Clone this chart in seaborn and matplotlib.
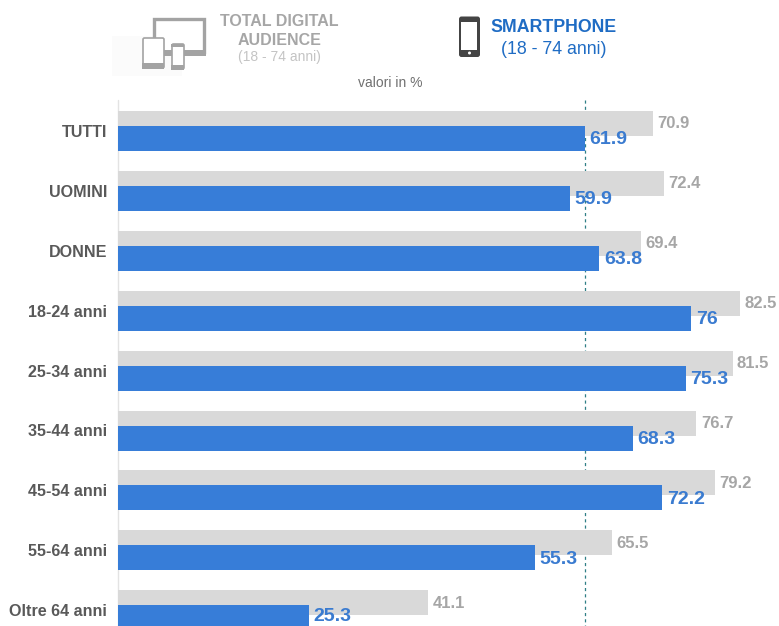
import matplotlib
matplotlib.use("Agg")
import matplotlib.pyplot as plt
from matplotlib.patches import Rectangle, FancyBboxPatch
import numpy as np
import seaborn as sns

categories = ["TUTTI", "UOMINI", "DONNE", "18-24 anni", "25-34 anni",
              "35-44 anni", "45-54 anni", "55-64 anni", "Oltre 64 anni"]
total_digital = [70.9, 72.4, 69.4, 82.5, 81.5, 76.7, 79.2, 65.5, 41.1]
smartphone = [61.9, 59.9, 63.8, 76, 75.3, 68.3, 72.2, 55.3, 25.3]
reference_line = 62

GREY_BAR = "#d9d9d9"
BLUE_BAR = "#377dd8"
GREY_TEXT = "#a6a6a6"
BLUE_TEXT = "#3a7bd0"
DARK_TEXT = "#595959"
W, H = 779, 626
X0, PX_PER_UNIT = 118, 7.54
ROW_TOP, ROW_STEP = 131, 59.9
BAR_PX, OFFSET_PX = 25, 7.5

sns.set_theme(style="white")
plt.rcParams["font.family"] = ["Liberation Sans", "DejaVu Sans"]

fig = plt.figure(figsize=(W / 100, H / 100), dpi=100)
ax = fig.add_axes([0, 0, 1, 1])

# Rows are laid out on a pixel-sized y scale so the two overlapping bars sit 15 px apart
rows = ROW_TOP + ROW_STEP * np.arange(len(categories))
sns.barplot(x=total_digital, y=rows - OFFSET_PX, orient="y", native_scale=True,
            width=BAR_PX / ROW_STEP, color=GREY_BAR, saturation=1, linewidth=0,
            ax=ax, zorder=2)
sns.barplot(x=smartphone, y=rows + OFFSET_PX, orient="y", native_scale=True,
            width=BAR_PX / ROW_STEP, color=BLUE_BAR, saturation=1, linewidth=0,
            ax=ax, zorder=3)

ax.set_xlim(-X0 / PX_PER_UNIT, (W - X0) / PX_PER_UNIT)
ax.set_ylim(H, 0)
ax.set_xlabel("")
ax.set_ylabel("")
ax.set_xticks([])
ax.set_yticks([])
sns.despine(ax=ax, left=True, bottom=True)

ax.plot([0, 0], [100, H], color="#e3e3e3", lw=1, zorder=1)
ax.plot([reference_line, reference_line], [100, H], color="#2f7f86", lw=0.9,
        ls=(0, (2.5, 2.5)), zorder=1)

for y, name, d, s in zip(rows, categories, total_digital, smartphone):
    ax.annotate(name, (0, y + 1.5), xytext=(-11 * 0.72, 0), textcoords="offset points",
                ha="right", va="center", fontsize=11.6, fontweight="bold", color=DARK_TEXT)
    ax.annotate(f"{d:g}", (d, y - 7), xytext=(3.2, 0), textcoords="offset points",
                ha="left", va="center", fontsize=12, fontweight="bold", color=GREY_TEXT, zorder=5)
    # the last label stays just inside the lower edge of the figure
    ax.annotate(f"{s:g}", (s, min(y + 9, H - 9.5)), xytext=(3.4, 0), textcoords="offset points",
                ha="left", va="center", fontsize=14, fontweight="bold", color=BLUE_TEXT, zorder=5)

# Legend header and device icons, drawn on a pixel-coordinate overlay
hd = fig.add_axes([0, 0, 1, 1], facecolor="none")
hd.set_xlim(0, W)
hd.set_ylim(H, 0)
hd.axis("off")

ICON = "#a3a3a3"
hd.add_patch(Rectangle((112, 36), 70, 40, fc="#fbfbfb", ec="none"))

# monitor: thick frame with a solid lower bezel
hd.add_patch(Rectangle((154.5, 18.5), 50, 33, fc="white", ec=ICON, lw=2.4))
hd.add_patch(Rectangle((153, 50), 53, 6, fc=ICON, ec="none"))
# tablet
hd.add_patch(FancyBboxPatch((143, 38), 21, 30, boxstyle="round,pad=0,rounding_size=1.5",
                            fc="white", ec=ICON, lw=1.2))
hd.add_patch(Rectangle((142.5, 63), 22, 6, fc=ICON, ec="none"))
# phone in front of the tablet
hd.add_patch(FancyBboxPatch((172, 44), 12, 25, boxstyle="round,pad=0,rounding_size=1.5",
                            fc="white", ec=ICON, lw=1.2))
hd.add_patch(Rectangle((171.5, 65), 13, 5, fc=ICON, ec="none"))
hd.add_patch(Rectangle((171.5, 44), 13, 2.5, fc=ICON, ec="none"))

# smartphone
PHONE = "#444444"
hd.add_patch(FancyBboxPatch((459, 16.5), 21, 40.5, boxstyle="round,pad=0,rounding_size=2.5",
                            fc=PHONE, ec="none"))
hd.add_patch(Rectangle((461.5, 22), 15.5, 28, fc="white", ec="none"))
hd.add_patch(plt.Circle((469.5, 53), 1.5, fc="white", ec="none"))

hd.text(279.5, 21, "TOTAL DIGITAL", ha="center", va="center", fontsize=11.5,
        fontweight="bold", color="#a6a6a6")
hd.text(279.5, 40.5, "AUDIENCE", ha="center", va="center", fontsize=11.5,
        fontweight="bold", color="#a6a6a6")
hd.text(279.5, 57, "(18 - 74 anni)", ha="center", va="center", fontsize=10, color="#c4c4c4")
hd.text(553.5, 28, "SMARTPHONE", ha="center", va="center", fontsize=12.8,
        fontweight="bold", color="#1f6cc4")
hd.text(553.5, 49.5, "(18 - 74 anni)", ha="center", va="center", fontsize=12.8, color="#1f6cc4")
hd.text(390, 83, "valori in %", ha="center", va="center", fontsize=10, color="#707070")

fig.savefig("out.png", dpi=100, facecolor="white")
